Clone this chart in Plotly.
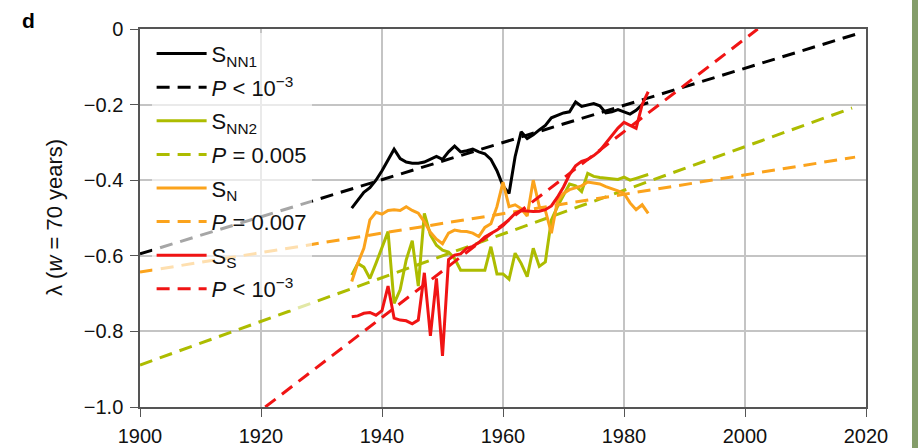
import plotly.graph_objects as go

years = list(range(1935, 1985))

s_nn1 = [-0.474, -0.452, -0.432, -0.420, -0.400, -0.375, -0.345, -0.318, -0.343, -0.352,
         -0.355, -0.355, -0.352, -0.345, -0.337, -0.345, -0.325, -0.310, -0.325, -0.322,
         -0.318, -0.325, -0.330, -0.345, -0.375, -0.415, -0.435, -0.338, -0.272, -0.290,
         -0.280, -0.267, -0.255, -0.235, -0.228, -0.222, -0.219, -0.193, -0.205, -0.200,
         -0.197, -0.203, -0.222, -0.219, -0.213, -0.219, -0.225, -0.215, -0.200, -0.195]

s_nn2 = [-0.651, -0.620, -0.630, -0.660, -0.620, -0.580, -0.536, -0.726, -0.690, -0.611,
         -0.560, -0.680, -0.488, -0.545, -0.572, -0.585, -0.590, -0.607, -0.638, -0.638,
         -0.638, -0.638, -0.638, -0.576, -0.648, -0.648, -0.662, -0.593, -0.620, -0.655,
         -0.580, -0.628, -0.616, -0.505, -0.470, -0.440, -0.410, -0.415, -0.430, -0.382,
         -0.390, -0.393, -0.395, -0.396, -0.398, -0.392, -0.400, -0.395, -0.390, -0.385]

s_n = [-0.668, -0.620, -0.580, -0.505, -0.485, -0.490, -0.480, -0.478, -0.480, -0.470,
       -0.480, -0.487, -0.510, -0.538, -0.556, -0.568, -0.540, -0.532, -0.535, -0.536,
       -0.540, -0.549, -0.525, -0.515, -0.470, -0.405, -0.470, -0.465, -0.475, -0.495,
       -0.400, -0.470, -0.480, -0.540, -0.455, -0.435, -0.425, -0.420, -0.415, -0.405,
       -0.408, -0.410, -0.417, -0.422, -0.428, -0.435, -0.460, -0.478, -0.465, -0.488]

s_s = [-0.761, -0.759, -0.752, -0.750, -0.757, -0.745, -0.680, -0.765, -0.770, -0.772,
       -0.780, -0.770, -0.645, -0.812, -0.660, -0.865, -0.610, -0.598, -0.595, -0.580,
       -0.575, -0.565, -0.550, -0.542, -0.532, -0.520, -0.505, -0.488, -0.480, -0.482,
       -0.483, -0.482, -0.478, -0.468, -0.445, -0.418, -0.385, -0.362, -0.350, -0.345,
       -0.335, -0.322, -0.302, -0.280, -0.262, -0.247, -0.255, -0.263, -0.200, -0.166]

# fitted trend lines (end points)
trend_nn1_x = [1900, 2018.5]
trend_nn1_y = [-0.595, -0.013]
trend_nn2_x = [1900, 2017.7]
trend_nn2_y = [-0.889, -0.209]
trend_n_x = [1900, 2018.2]
trend_n_y = [-0.643, -0.339]
trend_s_x = [1920.7, 2002.1]
trend_s_y = [-1.0, 0.0]

x_ticks = [1900, 1920, 1940, 1960, 1980, 2000, 2020]
y_ticks = [0, -0.2, -0.4, -0.6, -0.8, -1.0]
y_tick_text = ["0", "\u22120.2", "\u22120.4", "\u22120.6", "\u22120.8", "\u22121.0"]

BLACK = "#000000"
GREEN = "#adbc00"
ORANGE = "#fba31c"
RED = "#f01414"
DASH = "13px,8px"
LW = 3
FONT = "Liberation Sans, Arial, Helvetica, sans-serif"

series = [
    (years, s_nn1, BLACK, "solid", "S<sub>NN1</sub>"),
    (trend_nn1_x, trend_nn1_y, BLACK, DASH, "<i>P</i> < 10<sup>\u22123</sup>"),
    (years, s_nn2, GREEN, "solid", "S<sub>NN2</sub>"),
    (trend_nn2_x, trend_nn2_y, GREEN, DASH, "<i>P</i> = 0.005"),
    (years, s_n, ORANGE, "solid", "S<sub>N</sub>"),
    (trend_n_x, trend_n_y, ORANGE, DASH, "<i>P</i> = 0.007"),
    (years, s_s, RED, "solid", "S<sub>S</sub>"),
    (trend_s_x, trend_s_y, RED, DASH, "<i>P</i> < 10<sup>\u22123</sup>"),
]

fig = go.Figure()
for i, (xs, ys, col, dash, name) in enumerate(series):
    fig.add_trace(go.Scatter(x=xs, y=ys, mode="lines",
                             line=dict(color=col, width=LW, dash=dash),
                             name=name, legendgroup="g%d" % i))

axis_common = dict(
    showgrid=True, gridcolor="#c4c4c4", gridwidth=1.5,
    showline=True, linecolor="#555555", linewidth=1.5, mirror=True,
    ticks="outside", ticklen=8, tickcolor="#555555", tickwidth=1.2,
    zeroline=False, automargin=False,
    tickfont=dict(family=FONT, size=20, color="#111111"),
)

fig.update_layout(
    width=918, height=448,
    margin=dict(l=140, r=52, t=29, b=41),
    paper_bgcolor="white", plot_bgcolor="white",
    font=dict(family=FONT, size=20, color="#111111"),
    showlegend=True,
    legend=dict(x=0.016, y=0.99, xanchor="left", yanchor="top",
                bgcolor="rgba(255,255,255,0.65)", borderwidth=0,
                font=dict(family=FONT, size=22, color="#111111"),
                itemwidth=50, tracegroupgap=2),
    xaxis=dict(range=[1900, 2020], tickvals=x_ticks, ticklabelstandoff=2, **axis_common),
    yaxis=dict(range=[-1.0, 0], tickvals=y_ticks, ticktext=y_tick_text,
               ticklabelstandoff=3, **axis_common),
    annotations=[
        dict(text="\u03bb (<i>w</i> = 70 years)", xref="paper", yref="paper", x=0, y=0.5,
             xshift=-86, xanchor="center", yanchor="middle", textangle=-90, showarrow=False,
             font=dict(family=FONT, size=22, color="#111111")),
        dict(text="<b>d</b>", xref="paper", yref="paper", x=0, y=1, xshift=-112, yshift=9,
             xanchor="center", yanchor="middle",
             showarrow=False, font=dict(family=FONT, size=21, color="#000000")),
    ],
    shapes=[
        dict(type="rect", xref="paper", yref="paper",
             x0=1 + 46 / 726, x1=1 + 52 / 726, y0=-41 / 378, y1=1 + 29 / 378,
             fillcolor="rgba(110,140,80,0.85)", line=dict(width=0), layer="below"),
    ],
)

fig.write_html("out.html", config={"displayModeBar": False},
               post_script="document.body.style.margin='0px';")
